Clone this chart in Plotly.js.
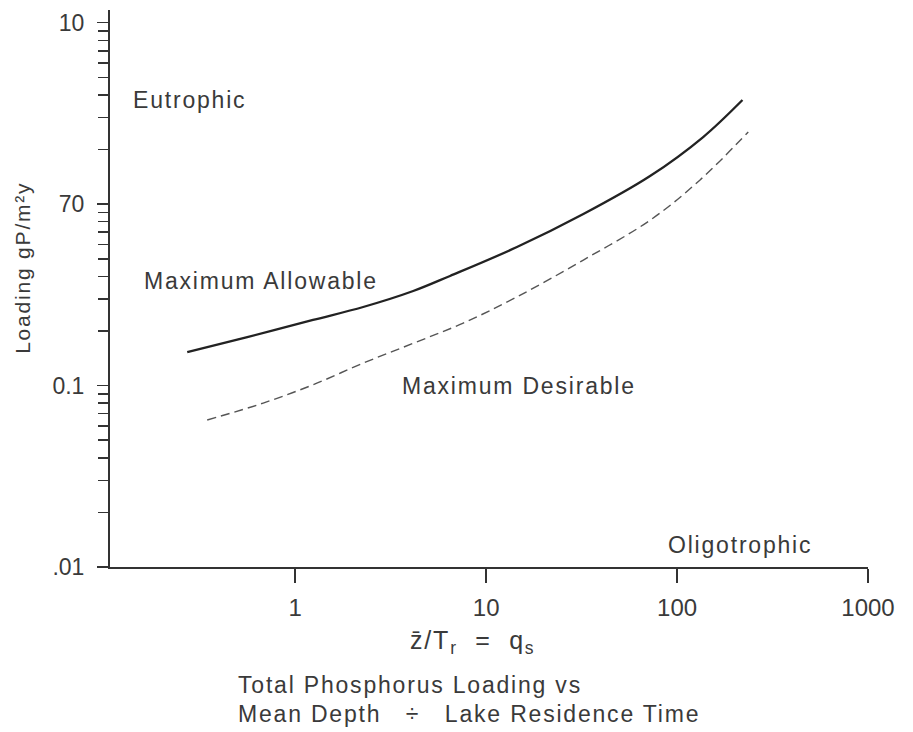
<!DOCTYPE html>
<html>
<head>
<meta charset="utf-8">
<script src="https://cdn.plot.ly/plotly-3.0.1.min.js"></script>
<style>
html,body{margin:0;padding:0;background:#fff;}
#chart{width:913px;height:732px;}
text.annotation-text{letter-spacing:1.8px;}
</style>
</head>
<body>
<div id="chart"></div>
<script>
// Maximum Allowable (solid) loading curve
const allowX = [0.272, 0.561, 1.24, 2.27, 4.15, 6.47, 14.5, 32.3, 72.2, 137, 220];
const allowY = [0.153, 0.185, 0.230, 0.271, 0.332, 0.402, 0.580, 0.882, 1.429, 2.344, 3.75];
// Maximum Desirable (dashed) loading curve
const desX = [0.346, 0.680, 1.24, 2.27, 4.15, 7.59, 14.5, 32.3, 72.4, 132, 236];
const desY = [0.0646, 0.0801, 0.101, 0.133, 0.171, 0.221, 0.308, 0.492, 0.817, 1.36, 2.50];
// Axis ticks
const xTickVals = [1, 10, 100, 1000];
const xTickText = ['1', '10', '100', '1000'];
const yTickVals = [0.01, 0.1, 1, 10];
const yTickText = ['.01', '0.1', '70', '10'];

const yMinor = [];
for (let d = -2; d < 1; d++) {
  for (let k = 2; k <= 9; k++) yMinor.push(k * Math.pow(10, d));
}

const FONT = 'Liberation Sans, Arial, Helvetica, sans-serif';
const TXT = '#3a3a3a';
const NB = '\u00a0';

const traces = [
  {x: allowX, y: allowY, type: 'scatter', mode: 'lines', name: 'Maximum Allowable',
   line: {color: '#222', width: 2.3, shape: 'spline', smoothing: 1}, hoverinfo: 'skip'},
  {x: desX, y: desY, type: 'scatter', mode: 'lines', name: 'Maximum Desirable',
   line: {color: '#555', width: 1.4, dash: '9px,5px', shape: 'spline', smoothing: 1}, hoverinfo: 'skip'}
];

const ann = (text, x, y, size, extra) => Object.assign({
  text: text, xref: 'paper', yref: 'paper', x: x, y: y,
  xanchor: 'left', yanchor: 'middle', showarrow: false, align: 'left',
  font: {family: FONT, size: size, color: TXT}
}, extra || {});

const layout = {
  width: 913, height: 732,
  margin: {l: 110, r: 45, t: 10, b: 165},
  paper_bgcolor: '#fff', plot_bgcolor: '#fff',
  showlegend: false,
  font: {family: FONT, color: TXT},
  xaxis: {
    type: 'log', range: [-0.97, 3.0],
    tickmode: 'array', tickvals: xTickVals, ticktext: xTickText,
    ticks: 'outside', ticklen: 14, tickwidth: 1.5, tickcolor: '#333',
    showline: true, linecolor: '#333', linewidth: 2,
    showgrid: false, zeroline: false, ticklabelstandoff: 4,
    tickfont: {family: FONT, size: 24, color: TXT}
  },
  yaxis: {
    type: 'log', range: [-2, 1.07],
    tickmode: 'array', tickvals: yTickVals, ticktext: yTickText,
    ticks: 'outside', ticklen: 11, tickwidth: 1.5, tickcolor: '#333',
    minor: {tickvals: yMinor, ticks: 'outside', ticklen: 10, tickwidth: 1.5, tickcolor: '#333', showgrid: false},
    showline: true, linecolor: '#333', linewidth: 2,
    showgrid: false, zeroline: false, ticklabelstandoff: 8,
    tickfont: {family: FONT, size: 23, color: TXT}
  },
  annotations: [
    ann('Eutrophic', 0.0277, 0.8384, 23),
    ann('Maximum Allowable', 0.0422, 0.5135, 23),
    ann('Maximum Desirable', 0.3826, 0.325, 23),
    ann('Oligotrophic', 0.7335, 0.0395, 23),
    ann('z\u0304/T<sub>r</sub>' + NB + NB + '=' + NB + NB + 'q<sub>s</sub>', 0.3925, -0.1347, 25),
    ann('Total Phosphorus Loading vs', 0.1662, -0.2118, 23),
    ann('Mean Depth' + NB + NB + NB + '\u00f7' + NB + NB + NB + 'Lake Residence Time', 0.1662, -0.2639, 23),
    ann('Loading gP/m\u00b2y', -0.1148, 0.537, 21, {xanchor: 'center', textangle: -90})
  ]
};

Plotly.newPlot('chart', traces, layout, {staticPlot: true, displayModeBar: false});
</script>
</body>
</html>
